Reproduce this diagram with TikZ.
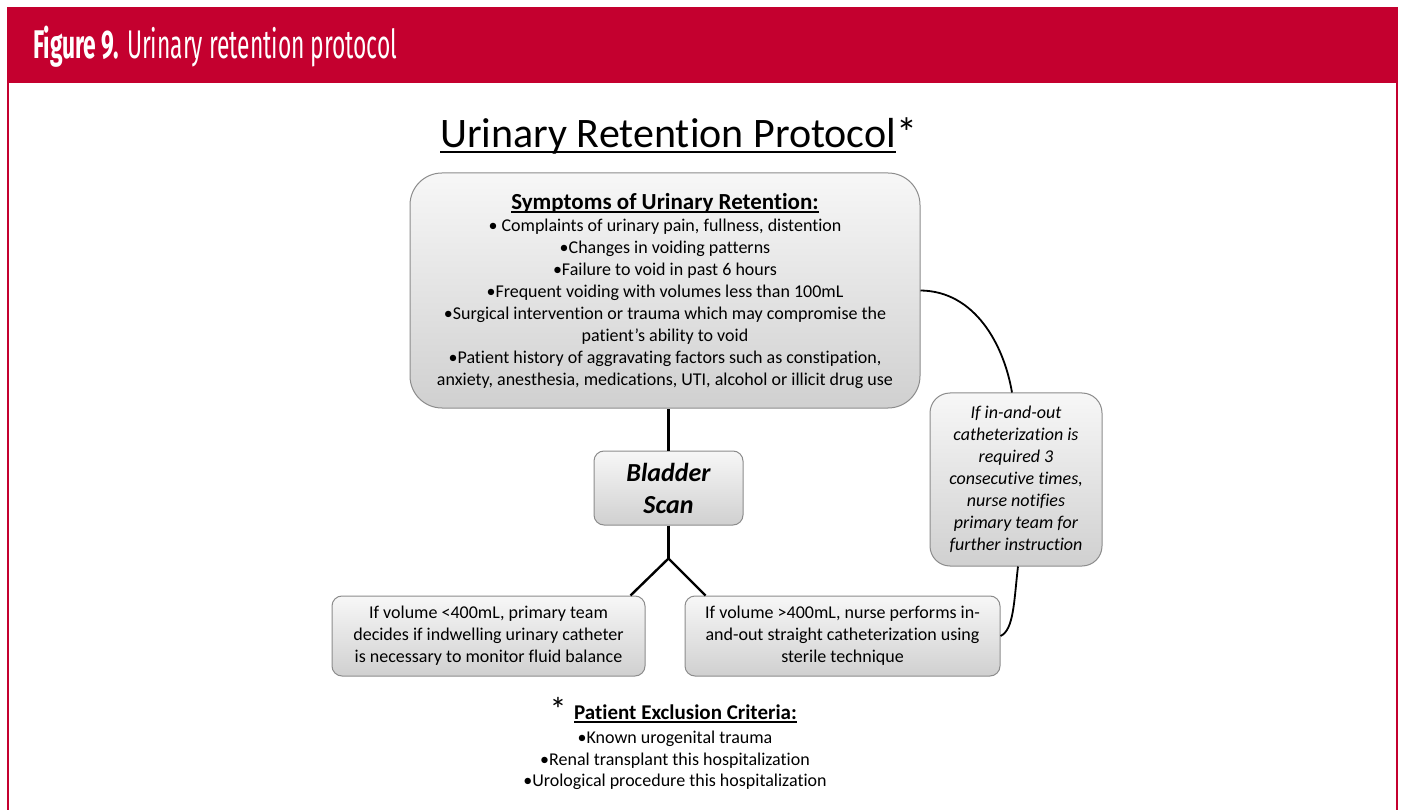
\documentclass[tikz,border=0pt]{standalone}
\usepackage{fontspec}
\setmainfont{Carlito}[Ligatures={NoCommon,TeX}]
\newfontfamily\hdrfont[FakeStretch=0.57]{Fira Sans}
\usetikzlibrary{calc}
\definecolor{crimson}{HTML}{C4002F}
\definecolor{boxedge}{HTML}{8C8C8C}
\definecolor{boxtop}{HTML}{F7F7F7}
\definecolor{boxbot}{HTML}{D0D0D0}
% underline with given thickness and depth below the baseline
\newcommand{\ulbar}[3]{\setbox0=\hbox{#3}\leavevmode\rlap{\rule[-#2]{\wd0}{#1}}\box0}
\tikzset{
  flowbox/.style={draw=boxedge, line width=1pt, top color=boxtop, bottom color=boxbot,
    align=center, inner sep=0pt, text=black, font=\fontsize{18}{22}\selectfont},
  link/.style={line width=2.4pt, black},
  curvelink/.style={line width=1.8pt, black},
}
\begin{document}
\begin{tikzpicture}[x=1pt,y=-1pt]
\useasboundingbox (0,0) rectangle (1401,810);
\fill[white] (0,0) rectangle (1401,810);

% frame and header band
\fill[crimson] (7,7) rectangle (1398,83);
\fill[crimson] (7,83) rectangle (9,810);
\fill[crimson] (1396,83) rectangle (1398,810);
\node[anchor=base west, text=white, inner sep=0pt, font=\hdrfont\fontsize{40}{40}\selectfont]
  (hdr) at (33,59) {\textbf{Figure 9.} Urinary retention protocol};

% title
\node[anchor=base west, inner sep=0pt, font=\fontsize{42}{46}\selectfont]
  (title) at (440,148) {\ulbar{2.2pt}{5pt}{Urinary Retention Protocol}*};

% boxes
\node[flowbox, rounded corners=32pt, minimum width=510pt, minimum height=235pt]
  (sym) at (665,290.5) {%
  {\fontsize{23}{24}\selectfont\bfseries\ulbar{1.8pt}{3.5pt}{Symptoms of Urinary Retention:}}\\
  • Complaints of urinary pain, fullness, distention\\
  •Changes in voiding patterns\\
  •Failure to void in past 6 hours\\
  •Frequent voiding with volumes less than 100mL\\
  •Surgical intervention or trauma which may compromise the\\
  patient’s ability to void\\
  •Patient history of aggravating factors such as constipation,\\
  anxiety, anesthesia, medications, UTI, alcohol or illicit drug use};

\node[flowbox, rounded corners=10pt, minimum width=149pt, minimum height=74pt,
  font=\fontsize{26}{32}\selectfont\bfseries\itshape]
  (scan) at (668.5,488) {Bladder\\Scan};

\node[flowbox, rounded corners=10pt, minimum width=313pt, minimum height=80pt]
  (low) at (488.5,636) {If volume <400mL, primary team\\
  decides if indwelling urinary catheter\\is necessary to monitor fluid balance};

\node[flowbox, rounded corners=10pt, minimum width=315pt, minimum height=80pt]
  (high) at (842.5,636) {If volume >400mL, nurse performs in-\\
  and-out straight catheterization using\\sterile technique};

\node[flowbox, rounded corners=20pt, minimum width=172pt, minimum height=173pt,
  font=\fontsize{18}{22}\selectfont\itshape]
  (note) at (1016,479.5) {If in-and-out\\catheterization is\\required 3\\consecutive times,\\
  nurse notifies\\primary team for\\further instruction};

% connectors
\draw[link] (scan.north) -- (scan.north |- sym.south);
\coordinate (fork) at ($(scan.south)+(0,33)$);
\draw[link] (scan.south) -- (fork);
\draw[link] (fork) -- ($(low.north east)+(-15,0)$);
\draw[link] (fork) -- ($(high.north west)+(21,0)$);
\draw[curvelink] (sym.east) .. controls (975,291) and (1004,345) .. ($(note.north)+(-4,0)$);
\draw[curvelink] ($(note.south)+(2,0)$) .. controls (1014,600) and (1014,630) .. (high.east);

% exclusion criteria
\node[anchor=base, inner sep=0pt, font=\fontsize{34}{34}\selectfont] (star) at (558,721) {*};
\node[anchor=base west, inner sep=0pt, font=\fontsize{21}{24}\selectfont\bfseries]
  (excl) at (574,719) {\ulbar{1.6pt}{3.5pt}{Patient Exclusion Criteria:}};
\node[anchor=north, inner sep=0pt, align=center, font=\fontsize{18}{21.5}\selectfont]
  (crit) at (675,731) {•Known urogenital trauma\\
  •Renal transplant this hospitalization\\
  •Urological procedure this hospitalization};
\end{tikzpicture}
\end{document}
